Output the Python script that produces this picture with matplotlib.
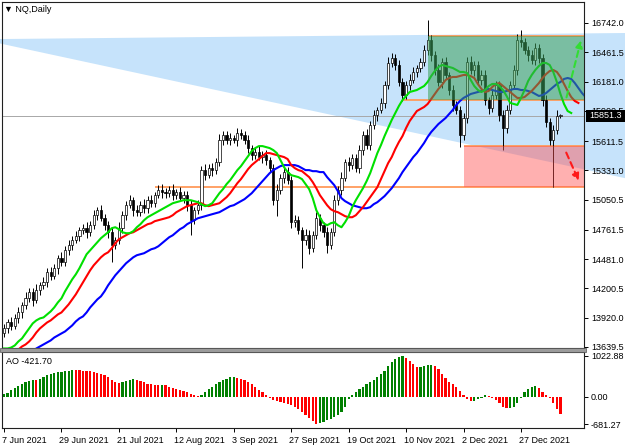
import numpy as np
import matplotlib.pyplot as plt
from matplotlib.patches import Polygon, Rectangle
import matplotlib.transforms as mtransforms

plt.rcParams['font.family'] = ['Liberation Sans', 'DejaVu Sans']
plt.rcParams['font.size'] = 6.5

# daily closes, NQ, 7 Jun 2021 .. mid Jan 2022
closes = [
    13821, 13879, 13840, 13917, 13974, 14041, 14108, 14166, 14089, 14185,
    14233, 14262, 14357, 14319, 14396, 14491, 14453, 14568, 14616, 14664,
    14702, 14760, 14779, 14740, 14807, 14903, 14951, 14874, 14807, 14740,
    14616, 14664, 14779, 14903, 14999, 15047, 14951, 14932, 14999, 14970,
    15047, 15018, 15095, 15143, 15123, 15114, 15143, 15095, 15123, 15066,
    15095, 14999, 14855, 14951, 14999, 15334, 15286, 15353, 15334, 15411,
    15621, 15669, 15621, 15640, 15621, 15688, 15669, 15621, 15545, 15478,
    15506, 15459, 15478, 15430, 15353, 15047, 15143, 15257, 15315, 15239,
    14836, 14855, 14760, 14664, 14712, 14587, 14712, 14874, 14807, 14740,
    14616, 14740, 15047, 15143, 15257, 15411, 15382, 15449, 15353, 15526,
    15669, 15573, 15765, 15861, 15909, 15976, 16148, 16359, 16407, 16340,
    16177, 16052, 16148, 16196, 16273, 16311, 16368, 16483, 16579, 16435,
    16292, 16177, 16368, 16244, 16100, 15957, 15909, 15669, 15832, 16368,
    16292, 16340, 16196, 16244, 16004, 15928, 16052, 16148, 15861, 15736,
    15909, 16148, 16292, 16579, 16560, 16483, 16435, 16388, 16502, 16407,
    16004, 15794, 15621, 15717, 15851, 15851.3,
]
first_open = 13770

upper_wick = [
    40, 30, 50, 35, 45, 30, 55, 40, 35, 60,
    30, 45, 35, 50, 40, 30, 55, 35, 45, 40,
    50, 30, 40, 60, 35, 45, 30, 50, 40, 35,
    45, 30, 55, 40, 35, 50, 30, 45, 40, 60,
    35, 50, 30, 45, 55, 40, 35, 60, 30, 45,
    40, 35, 50, 30, 45, 40, 60, 35, 50, 40,
    55, 40, 35, 45, 30, 50, 40, 35, 45, 30,
    40, 55, 35, 45, 30, 40, 60, 35, 50, 45,
    35, 50, 40, 30, 55, 45, 35, 60, 40, 30,
    45, 35, 50, 40, 55, 30, 45, 40, 35, 50,
    40, 55, 35, 45, 30, 50, 40, 60, 45, 35,
    50, 40, 35, 55, 45, 30, 40, 50, 190, 45,
    35, 55, 40, 50, 30, 45, 40, 35, 50, 45,
    60, 40, 35, 50, 45, 30, 55, 40, 35, 50,
    45, 35, 50, 60, 100, 40, 35, 50, 45, 40,
    35, 50, 40, 45, 55, 20,
]
lower_wick = [
    35, 50, 40, 30, 45, 55, 35, 40, 60, 30,
    45, 35, 50, 40, 30, 55, 40, 35, 45, 50,
    30, 45, 40, 55, 35, 40, 50, 30, 45, 60,
    165, 40, 35, 50, 45, 30, 55, 40, 35, 45,
    50, 35, 40, 30, 55, 45, 35, 50, 40, 30,
    45, 60, 146, 40, 35, 50, 45, 30, 55, 40,
    35, 50, 40, 45, 30, 55, 40, 35, 50, 45,
    40, 30, 55, 45, 35, 50, 150, 40, 45, 35,
    60, 45, 40, 270, 50, 60, 40, 35, 55, 45,
    80, 40, 35, 50, 45, 30, 55, 40, 35, 50,
    45, 35, 50, 40, 55, 30, 45, 40, 35, 50,
    40, 55, 35, 45, 30, 50, 40, 35, 45, 55,
    50, 40, 60, 35, 45, 55, 40, 115, 50, 45,
    40, 55, 35, 50, 45, 60, 40, 35, 55, 210,
    45, 40, 35, 50, 45, 40, 55, 35, 50, 45,
    60, 50, 45, 450, 40, 20,
]

# Alligator lines as drawn (already shifted forward: lips 3, teeth 5, jaw 8 bars)
lips = [
    13625, 13625, 13634, 13654, 13692, 13721, 13769, 13817, 13865, 13894,
    13913, 13922, 13951, 13980, 14018, 14066, 14105, 14172, 14230, 14287,
    14335, 14393, 14460, 14527, 14566, 14604, 14642, 14681, 14709, 14738,
    14777, 14786, 14767, 14738, 14729, 14729, 14748, 14786, 14815, 14853,
    14882, 14901, 14920, 14940, 14959, 14978, 14997, 15016, 15026, 15036,
    15045, 15045, 15045, 15036, 15026, 15007, 14988, 14997, 15016, 15064,
    15112, 15151, 15199, 15237, 15285, 15333, 15371, 15419, 15467, 15515,
    15544, 15563, 15563, 15554, 15544, 15525, 15496, 15429, 15362, 15314,
    15285, 15275, 15266, 15247, 15199, 15151, 15064, 14949, 14882, 14824,
    14805, 14824, 14834, 14805, 14786, 14834, 14892, 14978, 15045, 15103,
    15160, 15227, 15304, 15400, 15496, 15573, 15659, 15736, 15813, 15880,
    15947, 16004, 16043, 16081, 16091, 16100, 16119, 16138, 16177, 16234,
    16282, 16320, 16340, 16330, 16320, 16311, 16292, 16273, 16273, 16263,
    16196, 16138, 16100, 16081, 16100, 16138, 16158, 16158, 16138, 16100,
    16043, 15976, 15966, 15957, 16024, 16100, 16186, 16244, 16292, 16330,
    16359, 16359, 16340, 16273, 16177, 16062, 15966, 15899, 15880,
]
teeth = [
    13490, 13519, 13548, 13577, 13615, 13644, 13663, 13692, 13730, 13778,
    13817, 13846, 13874, 13894, 13922, 13951, 13970, 14009, 14047, 14095,
    14143, 14201, 14258, 14316, 14374, 14422, 14460, 14498, 14527, 14546,
    14585, 14633, 14671, 14690, 14709, 14729, 14738, 14757, 14777, 14796,
    14815, 14824, 14844, 14853, 14863, 14872, 14882, 14901, 14930, 14949,
    14968, 14988, 14997, 15007, 15016, 15016, 14997, 14988, 14997, 15007,
    15016, 15045, 15074, 15112, 15160, 15208, 15247, 15295, 15343, 15381,
    15410, 15439, 15467, 15496, 15496, 15487, 15477, 15467, 15458, 15439,
    15381, 15352, 15333, 15323, 15295, 15266, 15218, 15160, 15093, 15045,
    14997, 14959, 14940, 14930, 14911, 14892, 14882, 14882, 14901, 14940,
    14978, 15026, 15074, 15122, 15170, 15247, 15323, 15400, 15458, 15535,
    15602, 15659, 15736, 15803, 15851, 15899, 15918, 15937, 15966, 16014,
    16062, 16110, 16148, 16196, 16215, 16225, 16225, 16234, 16244, 16244,
    16234, 16215, 16158, 16110, 16081, 16091, 16129, 16158, 16167, 16138,
    16110, 16081, 16052, 16024, 16024, 16033, 16062, 16091, 16129, 16167,
    16215, 16253, 16282, 16292, 16273, 16225, 16158, 16091, 16033, 15995,
    15976,
]
jaw = [
    13366, 13394, 13433, 13461, 13490, 13519, 13548, 13577, 13596, 13625,
    13644, 13663, 13682, 13702, 13730, 13750, 13769, 13788, 13817, 13846,
    13884, 13913, 13932, 13970, 14018, 14057, 14095, 14124, 14172, 14230,
    14278, 14326, 14364, 14402, 14441, 14470, 14498, 14518, 14527, 14537,
    14556, 14575, 14585, 14604, 14633, 14661, 14690, 14709, 14738, 14767,
    14786, 14815, 14834, 14853, 14872, 14882, 14892, 14901, 14911, 14920,
    14930, 14949, 14968, 14988, 14997, 15016, 15036, 15055, 15084, 15112,
    15151, 15189, 15227, 15266, 15304, 15333, 15352, 15371, 15381, 15381,
    15381, 15381, 15371, 15352, 15333, 15333, 15323, 15323, 15314, 15314,
    15266, 15227, 15189, 15132, 15064, 15036, 15016, 14997, 14988, 14978,
    14968, 14968, 14978, 15007, 15026, 15055, 15084, 15122, 15160, 15208,
    15256, 15314, 15362, 15410, 15458, 15496, 15544, 15592, 15650, 15698,
    15736, 15774, 15803, 15832, 15870, 15909, 15957, 15995, 16024, 16043,
    16062, 16071, 16081, 16091, 16100, 16110, 16100, 16091, 16081, 16081,
    16091, 16100, 16110, 16110, 16100, 16100, 16091, 16081, 16062, 16043,
    16052, 16071, 16100, 16129, 16158, 16177, 16206, 16215, 16206, 16167,
    16119, 16071, 16033,
]

ao = [
    66, 108, 166, 224, 282, 332, 365, 390, 418, 414,
    448, 498, 540, 564, 589, 622, 625, 640, 648, 664,
    662, 660, 655, 650, 640, 625, 605, 580, 545, 500,
    430, 370, 345, 370, 400, 425, 440, 420, 390, 360,
    330, 310, 295, 295, 305, 290, 255, 225, 200, 175,
    150, 120, 85, 50, 15, 60, 120, 190, 260, 320,
    365, 410, 450, 490, 505, 480, 450, 410, 370, 320,
    250, 180, 120, 60, -20, -70, -100, -130, -160, -180,
    -200, -240, -290, -360, -440, -520, -590, -681.27, -650, -610,
    -570, -540, -500, -450, -380, -260, -60, 40, 120, 200,
    260, 310, 370, 430, 500, 580, 650, 760, 860, 940,
    990, 1022.88, 960, 890, 820, 740, 750, 770, 790, 800,
    760, 690, 580, 470, 380, 310, 250, 150, 60, -40,
    -110, -90, -60, -20, 60, 20, -30, -70, -150, -260,
    -280, -270, -250, -150, -20, 120, 200, 260, 270, 220,
    130, 50, -30, -150, -290, -421.70,
]

date_labels = ['7 Jun 2021', '29 Jun 2021', '21 Jul 2021', '12 Aug 2021', '3 Sep 2021',
               '27 Sep 2021', '19 Oct 2021', '10 Nov 2021', '2 Dec 2021', '27 Dec 2021']
date_bars = [0, 16, 32, 48, 64, 80, 96, 112, 128, 144]
price_ticks = [16742.0, 16461.5, 16181.0, 15900.5, 15611.5, 15331.0,
               15050.5, 14761.5, 14481.0, 14200.5, 13920.0, 13639.5]
ao_ticks = [1022.88, 0.0, -681.27]
last_price = 15851.3

# drawn objects: (start bar, level) for levels, zones as (start bar, low, high)
support_lines = [(110.9, 16000), (118.0, 16617), (128.1, 15564), (42.1, 15172)]
buy_zone = (118.0, 16000, 16617)
sell_zone = (128.1, 15172, 15564)
wedge = [(-1.7, 16588), (173.0, 16646), (173.0, 15256), (-1.7, 16550)]
up_arrow = ((156.5, 16004), (160.9, 16600))
down_arrow = ((156.3, 15525), (160.4, 15207))

# ---------------------------------------------------------------
W, H = 625, 446
fig = plt.figure(figsize=(W / 100, H / 100), dpi=100)


def box(x0, y0, x1, y1):
    return [x0 / W, 1 - y1 / H, (x1 - x0) / W, (y1 - y0) / H]


ax = fig.add_axes(box(2, 2, 584, 348))
ax_ao = fig.add_axes(box(2, 352, 584, 428))
x_lo, x_hi = -0.56, 161.56

n = len(closes)
x = np.arange(n)
c = np.array(closes, dtype=float)
o = np.array([first_open] + closes[:-1], dtype=float)
hi = np.maximum(o, c) + np.array(upper_wick)
lo = np.minimum(o, c) - np.array(lower_wick)

ax.set_xlim(x_lo, x_hi)
ax.set_ylim(13629.6, 16942.9)

ax.add_patch(Polygon(wedge, closed=True, facecolor='#c6e3fb', edgecolor='none',
                     zorder=0, clip_on=False))
for start, level in support_lines:
    ax.hlines(level, start, x_hi, color='#ff9a5a', lw=1.3, zorder=1)
ax.axhline(last_price, color='#a8a8a8', lw=0.7, zorder=1.5)

# candles
ax.vlines(x, lo, hi, color='black', lw=0.7, zorder=2)
up = c >= o
body_lo = np.minimum(o, c)
body_h = np.maximum(np.abs(c - o), 8)
ax.bar(x[up], body_h[up], bottom=body_lo[up], width=0.62, facecolor='white',
       edgecolor='black', linewidth=0.5, zorder=3)
ax.bar(x[~up], body_h[~up], bottom=body_lo[~up], width=0.62, facecolor='black',
       edgecolor='black', linewidth=0.5, zorder=3)

# alligator
ax.plot(np.arange(len(jaw)), jaw, color='#0000ff', lw=1.5, zorder=4)
ax.plot(np.arange(len(teeth)), teeth, color='#ff0000', lw=1.5, zorder=4)
ax.plot(np.arange(len(lips)), lips, color='#00e000', lw=1.5, zorder=4)

# zones
s, a, b = buy_zone
ax.add_patch(Rectangle((s, a), x_hi - s, b - a, facecolor='#3ca05a', alpha=0.55,
                       lw=0, zorder=5))
s, a, b = sell_zone
ax.add_patch(Rectangle((s, a), x_hi - s, b - a, facecolor='#ff5050', alpha=0.45,
                       lw=0, zorder=5))

ax.annotate('', xy=up_arrow[1], xytext=up_arrow[0], zorder=6,
            arrowprops=dict(arrowstyle='-|>', color='#33dd33', lw=1.5,
                            linestyle=(0, (3, 2)), mutation_scale=10))
ax.annotate('', xy=down_arrow[1], xytext=down_arrow[0], zorder=6,
            arrowprops=dict(arrowstyle='-|>', color='#ff1a1a', lw=1.5,
                            linestyle=(0, (3, 2)), mutation_scale=10))

ax.yaxis.tick_right()
ax.set_yticks(price_ticks)
ax.set_yticklabels([f'{p:.1f}' for p in price_ticks])
ax.tick_params(axis='y', length=3, width=0.7, pad=2, labelsize=6.5)
ax.set_xticks([])
for sp in ax.spines.values():
    sp.set_color('#202020')
    sp.set_linewidth(0.8)

# AO panel
ao_colors = ['#008000' if i == 0 or ao[i] > ao[i - 1] else '#ff0000' for i in range(n)]
ax_ao.bar(x, ao, width=0.62, color=ao_colors, zorder=2)
ax_ao.set_xlim(x_lo, x_hi)
ax_ao.set_ylim(-769, 1116)
ax_ao.yaxis.tick_right()
ax_ao.set_yticks(ao_ticks)
ax_ao.set_yticklabels([f'{v:.2f}' for v in ao_ticks])
ax_ao.tick_params(axis='y', length=3, width=0.7, pad=2, labelsize=6.5)
ax_ao.set_xticks(date_bars)
ax_ao.set_xticklabels(date_labels)
ax_ao.tick_params(axis='x', length=3, width=0.7, pad=3, labelsize=6.5)
shift = mtransforms.ScaledTranslation(-2 / 100, 0, fig.dpi_scale_trans)
for lab in ax_ao.get_xticklabels():
    lab.set_ha('left')
    lab.set_transform(lab.get_transform() + shift)
for sp in ax_ao.spines.values():
    sp.set_color('#202020')
    sp.set_linewidth(0.8)

# separator between panels
fig.add_artist(Rectangle((0, 1 - 351.5 / H), 586 / W, 4 / H, transform=fig.transFigure,
                         facecolor='#9b9b9b', edgecolor='#555555', lw=0.5))

# last price tag
fig.add_artist(Rectangle((586 / W, 1 - 122 / H), 39 / W, 12 / H, transform=fig.transFigure,
                         facecolor='black', edgecolor='none', zorder=10))
fig.text(589 / W, 1 - 116 / H, f'{last_price:.1f}', color='white', va='center',
         ha='left', fontsize=6.5, zorder=11)

fig.text(4 / W, 1 - 9 / H, '▼ NQ,Daily', va='center', ha='left', fontsize=6.5)
fig.text(6 / W, 1 - 362 / H, 'AO -421.70', va='center', ha='left', fontsize=6.5)

fig.savefig('out.png', dpi=100)
